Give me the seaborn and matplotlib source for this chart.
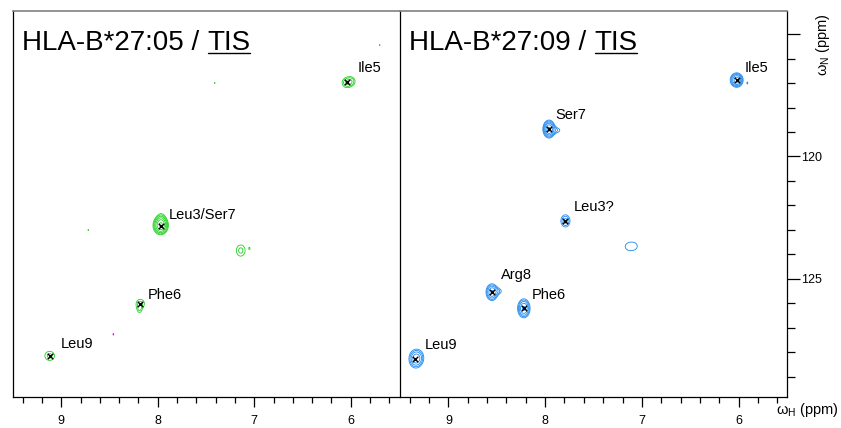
import numpy as np
import pandas as pd
import matplotlib
matplotlib.use("Agg")
import matplotlib.pyplot as plt
from matplotlib.lines import Line2D
import seaborn as sns

sns.set_theme(style="white")
plt.rcParams['font.family'] = ['Liberation Sans', 'DejaVu Sans']
plt.rcParams['mathtext.fontset'] = 'custom'
plt.rcParams['mathtext.rm'] = 'Liberation Sans'
plt.rcParams['mathtext.it'] = 'Liberation Sans'
plt.rcParams['text.color'] = 'black'
plt.rcParams['xtick.color'] = 'black'
plt.rcParams['ytick.color'] = 'black'
plt.rcParams['xtick.labelcolor'] = 'black'
plt.rcParams['ytick.labelcolor'] = 'black'

# ---------------- data ----------------
titles = ["HLA-B*27:05 / ", "HLA-B*27:09 / "]
title_tail = "TIS"

# assigned peaks, left spectrum (HLA-B*27:05)
left_names = ["Ile5", "Leu3/Ser7", "Phe6", "Leu9"]
left_h = [6.04, 7.97, 8.18, 9.12]
left_n = [116.97, 122.82, 126.02, 128.14]

# assigned peaks, right spectrum (HLA-B*27:09)
right_names = ["Ile5", "Ser7", "Leu3?", "Arg8", "Phe6", "Leu9"]
right_h = [6.02, 7.96, 7.79, 8.55, 8.22, 9.34]
right_n = [116.88, 118.88, 122.63, 125.54, 126.20, 128.27]

# all signal components (position, intensity, linewidth) used to build the contour maps
left_sig_h = [6.045, 5.995, 7.97, 7.965, 7.14, 8.18, 8.19, 9.12, 5.70, 7.41, 7.05, 8.72, 8.46]
left_sig_n = [116.99, 116.93, 122.82, 122.62, 123.84, 126.00, 126.25, 128.14, 115.45, 117.00, 123.75, 123.00, 127.26]
left_sig_i = [1.9, 1.75, 7.0, 2.0, 1.7, 1.6, 1.2, 1.7, 1.08, 1.08, 1.08, 1.08, -1.08]
left_sig_wh = [0.038, 0.034, 0.040, 0.03, 0.044, 0.042, 0.022, 0.048, 0.008, 0.008, 0.008, 0.008, 0.008]
left_sig_wn = [0.16, 0.14, 0.19, 0.2, 0.22, 0.17, 0.14, 0.18, 0.06, 0.06, 0.06, 0.06, 0.08]

right_sig_h = [6.02, 5.91, 7.96, 7.89, 7.79, 7.15, 7.07, 8.55, 8.49, 8.22, 9.34, 9.31]
right_sig_n = [116.88, 117.00, 118.88, 118.93, 122.63, 123.68, 123.66, 125.54, 125.50, 126.20, 128.27, 128.20]
right_sig_i = [7.0, 1.12, 8.0, 1.5, 2.6, 0.97, 0.97, 5.0, 1.4, 5.5, 3.6, 1.6]
right_sig_wh = [0.034, 0.008, 0.031, 0.045, 0.034, 0.05, 0.05, 0.034, 0.04, 0.035, 0.041, 0.04]
right_sig_wn = [0.15, 0.08, 0.18, 0.10, 0.18, 0.21, 0.21, 0.19, 0.10, 0.21, 0.22, 0.2]

levels = [1.0, 1.5, 2.25, 3.4, 5.1, 7.6]
label_offsets_left = [(11, 14), (8, 11), (7, 9), (11, 12)]
label_offsets_right = [(8, 12), (6, 14), (8, 14), (9, 17), (8, 13), (9, 14)]

# ---------------- figure ----------------
W, H = 841, 428
fig = plt.figure(figsize=(W / 100, H / 100), dpi=100)
top_px, bot_px = 11, 397
axL = fig.add_axes([13 / W, (H - bot_px) / H, 386 / W, (bot_px - top_px) / H])
axR = fig.add_axes([400 / W, (H - bot_px) / H, 387 / W, (bot_px - top_px) / H])

gh = np.linspace(5.3, 9.7, 1600)
gn = np.linspace(113.5, 130.5, 1200)
GH, GN = np.meshgrid(gh, gn)


def spectrum(hs, ns, ii, wh, wn):
    z = np.zeros_like(GH)
    for h0, n0, a, sh, sn in zip(hs, ns, ii, wh, wn):
        z += a * np.exp(-0.5 * (((GH - h0) / sh) ** 2 + ((GN - n0) / sn) ** 2))
    return z


specs = [
    (axL, spectrum(left_sig_h, left_sig_n, left_sig_i, left_sig_wh, left_sig_wn), "#1fd11f",
     left_names, left_h, left_n, label_offsets_left),
    (axR, spectrum(right_sig_h, right_sig_n, right_sig_i, right_sig_wh, right_sig_wn), "#1e88f0",
     right_names, right_h, right_n, label_offsets_right),
]

for i, (ax, Z, col, names, hs, ns, offs) in enumerate(specs):
    ax.contour(GH, GN, Z, levels=levels, colors=col, linewidths=0.6)
    if Z.min() < -1.0:
        ax.contour(GH, GN, Z, levels=[-1.0], colors="#ff00ff", linewidths=0.7,
                   linestyles="solid")
    df = pd.DataFrame({"h": hs, "n": ns, "name": names})
    sns.scatterplot(data=df, x="h", y="n", marker="x", color="black", s=16,
                    linewidth=1.0, ax=ax, legend=False, zorder=5)
    for name, h0, n0, (dx, dy) in zip(names, hs, ns, offs):
        ax.annotate(name, (h0, n0), xytext=(dx, dy), textcoords="offset pixels",
                    ha="left", va="center", fontsize=10.5, color="black")
    ax.set_xlim(9.5, 5.5)
    ax.set_ylim(129.82, 114.06)
    ax.set_xlabel("")
    ax.set_ylabel("")
    ax.set_xticks([9, 8, 7, 6])
    ax.set_xticks(np.arange(5.6, 9.5, 0.2), minor=True)
    ax.tick_params(axis="x", which="major", bottom=True, direction="out", length=7,
                   width=0.9, labelsize=9, pad=6, color="black", labelcolor="black")
    ax.tick_params(axis="x", which="minor", bottom=True, direction="out", length=4.5,
                   width=0.9, color="black")
    for s in ["left", "right", "bottom"]:
        ax.spines[s].set_color("black")
        ax.spines[s].set_linewidth(0.9)
    ax.spines["top"].set_color("#808080")
    ax.spines["top"].set_linewidth(1.2)

axL.set_yticks([])
axL.spines["right"].set_visible(False)
axR.spines["left"].set_color("black")
axR.yaxis.tick_right()
axR.set_yticks([115, 120, 125])
axR.set_yticklabels(["", "120", "125"])
axR.set_yticks(np.arange(116, 130, 1), minor=True)
axR.tick_params(axis="y", which="major", right=True, left=False, direction="out",
                length=9, width=0.9, labelsize=9, pad=1, color="black", labelcolor="black")
axR.tick_params(axis="y", which="minor", right=True, left=False, direction="out",
                length=6, width=0.9, color="black")

# titles with underlined tail
fig.canvas.draw()
renderer = fig.canvas.get_renderer()
for ax, t in zip([axL, axR], titles):
    t1 = ax.text(0.024, 0.900, t, transform=ax.transAxes, fontsize=20,
                 ha="left", va="baseline", color="black")
    fig.canvas.draw()
    bb = t1.get_window_extent(renderer)
    x_end = ax.transAxes.inverted().transform((bb.x1, bb.y0))[0]
    t2 = ax.text(x_end, 0.900, title_tail, transform=ax.transAxes, fontsize=20,
                 ha="left", va="baseline", color="black")
    fig.canvas.draw()
    bb2 = t2.get_window_extent(renderer)
    base_y = ax.transAxes.transform((0, 0.900))[1]
    line = Line2D([bb2.x0 + 0.5, bb2.x1 - 0.5], [base_y - 3.5, base_y - 3.5],
                  transform=None, color="black", linewidth=1.0)
    fig.add_artist(line)

fig.text(839 / W, 1 - 410 / H, r"$\omega_{\mathrm{H}}$ (ppm)", fontsize=10.5,
         ha="right", va="center")
fig.text(823 / W, 1 - 45 / H, r"$\omega_{\mathrm{N}}$ (ppm)", fontsize=10.5,
         ha="center", va="center", rotation=90)

fig.savefig("out.png", dpi=100)
